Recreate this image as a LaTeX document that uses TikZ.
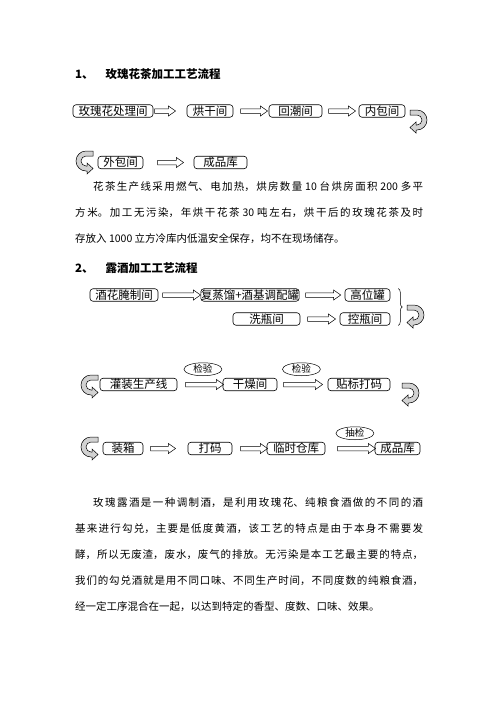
\documentclass[tikz,border=0pt]{standalone}
\usepackage{fontspec}
\setmainfont{Noto Sans CJK SC}
\XeTeXlinebreaklocale "zh"
\XeTeXlinebreakskip=0pt plus 3pt minus 0.6pt
\usetikzlibrary{positioning}
\usetikzlibrary{shapes.geometric,shapes.arrows,calc,decorations.pathreplacing}

\begin{document}
\begin{tikzpicture}[x=1pt,y=-1pt,
  box/.style={draw,rounded corners=3pt,line width=0.6pt,minimum height=12.5pt,inner sep=0pt,font=\fontsize{11.5}{12}\selectfont},
  flow/.style={single arrow,draw,line width=0.5pt,inner xsep=0pt,inner ysep=2pt,single arrow head extend=2.8pt,single arrow tip angle=70},
  check/.style={ellipse,draw,line width=0.5pt,minimum width=38pt,minimum height=13pt,inner sep=0pt,font=\fontsize{9.5}{10}\selectfont},
  head/.style={anchor=west,inner sep=0pt,font=\bfseries\fontsize{11.5}{12}\selectfont},
  para/.style={anchor=north west,inner sep=0pt,text width=348pt,align=justify,font=\fontsize{10.5}{26}\selectfont},
  uturn/.pic={\draw[fill=gray!35,line width=0.5pt] (0,0) -- (7,0) arc[start angle=-90,end angle=90,radius=10] -- (6,20) -- (6,23) -- (0,17.5) -- (6,12) -- (6,15) -- (7,15) arc[start angle=90,end angle=-90,radius=5] -- (0,5) -- cycle;}]
\path[use as bounding box,fill=white] (0,0) rectangle (496,702);

\node[head] (t1) at (75,74.5) {1、\hspace{12pt}玫瑰花茶加工工艺流程};

\node[box,minimum width=80pt] (b11) at (113,111) {玫瑰花处理间};
\node[flow,minimum height=21pt,right=1pt of b11] (a11) {};
\node[box,minimum width=46pt] (b12) at (210,111) {烘干间};
\node[flow,minimum height=27pt,right=7pt of b12] (a12) {};
\node[box,minimum width=53pt] (b13) at (295.5,111) {回潮间};
\node[flow,minimum height=27pt,right=6pt of b13] (a13) {};
\node[box,minimum width=46pt] (b14) at (382,111) {内包间};
\pic (u1) at (410,110) {uturn};

\pic[xscale=-1] (u2) at (93,151) {uturn};
\node[box,minimum width=45pt] (b21) at (120.5,162.5) {外包间};
\node[flow,minimum height=26pt,right=14pt of b21] (a21) {};
\node[box,minimum width=53pt] (b22) at (220.5,162.5) {成品库};

\node[para] (p1) at (75,181.5) {\noindent\hspace*{18pt}花茶生产线采用燃气、电加热，烘房数量 10 台烘房面积 200 多平\linebreak
方米。加工无污染，年烘干花茶 30 吨左右，烘干后的玫瑰花茶及时\linebreak
存放入 1000 立方冷库内低温安全保存，均不在现场储存。};

\node[head] (t2) at (75,268) {2、\hspace{12pt}露酒加工工艺流程};

\node[box,minimum width=68pt] (c1) at (124,295) {酒花腌制间};
\node[flow,minimum height=38pt,right=4pt of c1] (a21b) {};
\node[box,minimum width=96pt] (c2) at (250,295) {复蒸馏+酒基调配罐};
\node[flow,minimum height=35pt,right=6pt of c2] (a22b) {};
\node[box,minimum width=45pt] (c3) at (367.5,295) {高位罐};

\node[box,minimum width=67pt] (d1) at (266.5,319) {洗瓶间};
\node[flow,minimum height=28pt,right=7pt of d1] (a23b) {};
\node[box,minimum width=50pt] (d2) at (365,319) {控瓶间};
\draw[decorate,decoration={brace,amplitude=4pt},line width=0.5pt] ($(c3.north east)+(8,0)$) -- ($(d2.south east)+(8,0)$);
\pic (u3) at (407,305) {uturn};

\pic[xscale=-1] (u4) at (98,375) {uturn};
\node[box,minimum width=77pt] (e1) at (138.5,384.5) {灌装生产线};
\node[flow,minimum height=38pt,right=8pt of e1] (a31) {};
\node[box,minimum width=54pt] (e2) at (250,384.5) {干燥间};
\node[flow,minimum height=39pt,right=6pt of e2] (a32) {};
\node[box,minimum width=62pt] (e3) at (359,384.5) {贴标打码};
\node[check,above=6pt of a31] (k1) {检验};
\node[check,above=6pt of a32] (k2) {检验};
\pic (u5) at (402,383) {uturn};

\pic[xscale=-1] (u6) at (98,437) {uturn};
\node[box,minimum width=40pt] (f1) at (123,448.5) {装箱};
\node[flow,minimum height=25pt,right=7pt of f1] (a41) {};
\node[box,minimum width=44pt] (f2) at (210,448.5) {打码};
\node[flow,minimum height=27pt,right=8pt of f2] (a42) {};
\node[box,minimum width=58pt] (f3) at (296,448.5) {临时仓库};
\node[flow,minimum height=38pt,right=12pt of f3] (a43) {};
\node[box,minimum width=45pt] (f4) at (397.5,448.5) {成品库};
\node[check,above=6pt of a43] (k3) {抽检};

\node[para] (p2) at (75,497) {\noindent\hspace*{18pt}玫瑰露酒是一种调制酒，是利用玫瑰花、纯粮食酒做的不同的酒\linebreak
基来进行勾兑，主要是低度黄酒，该工艺的特点是由于本身不需要发\linebreak
酵，所以无废渣，废水，废气的排放。无污染是本工艺最主要的特点，\linebreak
我们的勾兑酒就是用不同口味、不同生产时间，不同度数的纯粮食酒，\linebreak
经一定工序混合在一起，以达到特定的香型、度数、口味、效果。};
\end{tikzpicture}
\end{document}
